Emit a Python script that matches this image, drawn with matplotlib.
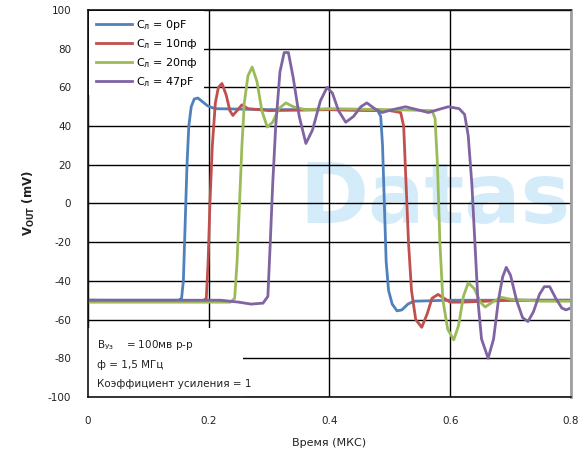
import matplotlib
matplotlib.use("Agg")
import matplotlib.pyplot as plt
from matplotlib.patches import Rectangle

plt.rcParams['font.family'] = ['DejaVu Sans']
plt.rcParams['axes.unicode_minus'] = False
plt.rcParams['mathtext.default'] = 'regular'

# Output waveforms for each load capacitance: time (us), Vout (mV)
t_0pf = [0.0, 0.15, 0.155, 0.158, 0.161, 0.164, 0.167, 0.171, 0.176, 0.182, 0.190, 0.198,
         0.21, 0.30, 0.40, 0.48, 0.485, 0.488, 0.491, 0.494, 0.498, 0.504, 0.512, 0.520,
         0.530, 0.540, 0.60, 0.80]
v_0pf = [-50, -50, -49, -40, -10, 20, 40, 50, 54, 54.5, 52.5, 50.5,
         49, 48.5, 48.5, 48, 45, 30, 0, -30, -45, -52, -55.5, -55,
         -52, -50.5, -50, -50]

t_10pf = [0.0, 0.19, 0.196, 0.199, 0.202, 0.206, 0.211, 0.216, 0.222, 0.229, 0.235, 0.240,
          0.247, 0.255, 0.265, 0.30, 0.40, 0.50, 0.518, 0.523, 0.527, 0.531, 0.536, 0.543,
          0.553, 0.562, 0.570, 0.580, 0.590, 0.60, 0.62, 0.70, 0.80]
v_10pf = [-50, -50.5, -49, -30, 0, 30, 52, 60, 62, 56, 48, 45.5,
          48, 51, 49, 48, 48.5, 48, 47, 40, 10, -20, -45, -60,
          -64, -57, -49, -47, -49, -51, -51, -50, -50]

t_20pf = [0.0, 0.20, 0.236, 0.243, 0.247, 0.251, 0.255, 0.259, 0.265, 0.272, 0.280, 0.288,
          0.297, 0.306, 0.316, 0.328, 0.340, 0.36, 0.40, 0.50, 0.57, 0.575, 0.579, 0.583,
          0.588, 0.596, 0.606, 0.614, 0.622, 0.630, 0.640, 0.650, 0.658, 0.670, 0.685, 0.70,
          0.75, 0.80]
v_20pf = [-51, -51, -51, -49, -30, 0, 30, 52, 66, 70.5, 63, 48,
          39.5, 42, 49, 52, 50, 48.5, 49, 48.5, 48, 44, 20, -20,
          -50, -65, -70.5, -63, -48, -41, -44, -51, -53.5, -51, -48.5, -49.5,
          -50.5, -50.5]

t_47pf = [0.0, 0.22, 0.25, 0.27, 0.29, 0.298, 0.302, 0.306, 0.311, 0.318, 0.325, 0.332,
          0.340, 0.350, 0.361, 0.372, 0.385, 0.396, 0.405, 0.415, 0.427, 0.440, 0.452, 0.462,
          0.475, 0.487, 0.505, 0.526, 0.545, 0.564, 0.58, 0.597, 0.615, 0.624, 0.630, 0.636,
          0.641, 0.646, 0.652, 0.663, 0.672, 0.680, 0.687, 0.693, 0.700, 0.710, 0.720, 0.729,
          0.738, 0.748, 0.756, 0.765, 0.775, 0.785, 0.792, 0.80]
v_47pf = [-50, -50, -51, -52, -51.5, -48, -20, 10, 40, 68, 78, 78,
          65, 45, 31, 38, 53, 60, 57, 48, 42, 45, 50, 52,
          49, 47, 48.5, 50, 48.5, 47, 48.5, 50, 49, 46, 35, 10,
          -20, -50, -70, -80, -70, -50, -38, -33, -37, -50, -59, -61,
          -56, -47, -43, -43, -49, -54, -55, -54]

labels = ['C$_{л}$ = 0pF', 'C$_{л}$ = 10пф', 'C$_{л}$ = 20пф', 'C$_{л}$ = 47pF']
colors = ['#4f81bd', '#c0504d', '#9bbb59', '#8064a2']

x_ticks = [0, 0.2, 0.4, 0.6, 0.8]
x_ticklabels = ['0', '0.2', '0.4', '0.6', '0.8']
y_ticks = [100, 80, 60, 40, 20, 0, -20, -40, -60, -80, -100]

fig = plt.figure(figsize=(5.81, 4.54), dpi=100)
ax = fig.add_axes([0.1515, 0.1256, 0.831, 0.8524])

# faint watermark behind the plot
ax.text(0.35, 2, 'Datas', fontsize=60, fontweight='bold', color='#d4ecfa',
        va='center', ha='left', zorder=0.3, clip_on=False)

series = [(t_0pf, v_0pf), (t_10pf, v_10pf), (t_20pf, v_20pf), (t_47pf, v_47pf)]
for (t, v), lab, c in zip(series, labels, colors):
    ax.plot(t, v, color=c, lw=2.0, label=lab, solid_joinstyle='round', zorder=2)

ax.set_xlim(0, 0.8)
ax.set_ylim(-100, 100)
ax.set_xticks(x_ticks)
ax.set_xticklabels(x_ticklabels)
ax.set_yticks(y_ticks)
ax.set_axisbelow(True)
ax.grid(True, color='black', lw=1.0)
ax.tick_params(axis='both', length=0, labelsize=7.5, colors='#222222')
ax.tick_params(axis='y', pad=12)
ax.tick_params(axis='x', pad=14)

for s in ['left', 'bottom', 'top']:
    ax.spines[s].set_color('#111111')
    ax.spines[s].set_linewidth(1.2)
ax.spines['right'].set_color('#a0a0a0')
ax.spines['right'].set_linewidth(2)

ax.set_ylabel('V$_{OUT}$ (mV)', fontsize=8.5, fontweight='bold', color='#222222', labelpad=8)
ax.set_xlabel('Время (МКС)', fontsize=8, color='#222222', labelpad=8)

leg = ax.legend(loc='upper left', fontsize=8, frameon=True, facecolor='white',
                edgecolor='none', framealpha=1, borderaxespad=0.1, handlelength=3.3,
                handletextpad=0.3, labelspacing=0.45, borderpad=0.6)
leg.get_frame().set_boxstyle('square', pad=0)

# white panel for the test-condition notes
ax.add_patch(Rectangle((0, -100), 0.256, 35.5, facecolor='white', edgecolor='none', zorder=1))
ax.text(0.015, -73, 'В$_{Уз}$    = 100мв p-p', fontsize=7.5, color='#222222', va='center', zorder=3)
ax.text(0.015, -83.5, 'ф = 1,5 МГц', fontsize=7.5, color='#222222', va='center', zorder=3)
ax.text(0.015, -93.5, 'Коэффициент усиления = 1', fontsize=7.5, color='#222222', va='center',
        zorder=3, bbox=dict(facecolor='white', edgecolor='none', pad=1))

fig.savefig('out.png', dpi=100)
